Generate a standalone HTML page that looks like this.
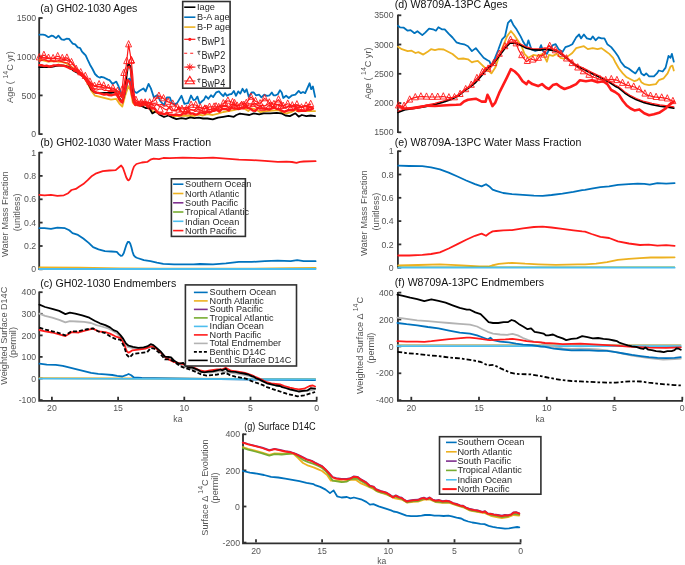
<!DOCTYPE html><html><head><meta charset="utf-8"><style>html,body{margin:0;padding:0;background:#fff;}svg{display:block;will-change:transform;}text{font-family:"Liberation Sans",sans-serif;}</style></head><body>
<svg width="685" height="565" viewBox="0 0 685 565">
<rect width="685" height="565" fill="#fff"/>
<path d="M39.2,17.3V134.8" fill="none" stroke="#303030" stroke-width="1.85"/>
<path d="M39.2,134.1h3.4" stroke="#303030" stroke-width="1.8"/>
<text transform="translate(36.2,137.2) scale(1,1.1)"   font-size="8.75" fill="#555555" text-anchor="end">0</text>
<path d="M39.2,95.4h3.4" stroke="#303030" stroke-width="1.8"/>
<text transform="translate(36.2,98.5) scale(1,1.1)"   font-size="8.75" fill="#555555" text-anchor="end">500</text>
<path d="M39.2,56.7h3.4" stroke="#303030" stroke-width="1.8"/>
<text transform="translate(36.2,59.8) scale(1,1.1)"   font-size="8.75" fill="#555555" text-anchor="end">1000</text>
<path d="M39.2,18h3.4" stroke="#303030" stroke-width="1.8"/>
<text transform="translate(36.2,21.1) scale(1,1.1)"   font-size="8.75" fill="#555555" text-anchor="end">1500</text>
<path d="M39.2,151.9V270" fill="none" stroke="#303030" stroke-width="1.85"/>
<path d="M39.2,269.3h3.4" stroke="#303030" stroke-width="1.8"/>
<text transform="translate(36.2,272.4) scale(1,1.1)"   font-size="8.75" fill="#555555" text-anchor="end">0</text>
<path d="M39.2,246h3.4" stroke="#303030" stroke-width="1.8"/>
<text transform="translate(36.2,249.1) scale(1,1.1)"   font-size="8.75" fill="#555555" text-anchor="end">0.2</text>
<path d="M39.2,222.6h3.4" stroke="#303030" stroke-width="1.8"/>
<text transform="translate(36.2,225.7) scale(1,1.1)"   font-size="8.75" fill="#555555" text-anchor="end">0.4</text>
<path d="M39.2,199.3h3.4" stroke="#303030" stroke-width="1.8"/>
<text transform="translate(36.2,202.4) scale(1,1.1)"   font-size="8.75" fill="#555555" text-anchor="end">0.6</text>
<path d="M39.2,175.9h3.4" stroke="#303030" stroke-width="1.8"/>
<text transform="translate(36.2,179) scale(1,1.1)"   font-size="8.75" fill="#555555" text-anchor="end">0.8</text>
<path d="M39.2,152.6h3.4" stroke="#303030" stroke-width="1.8"/>
<text transform="translate(36.2,155.7) scale(1,1.1)"   font-size="8.75" fill="#555555" text-anchor="end">1</text>
<path d="M39.2,291.5V400.8H317.4" fill="none" stroke="#303030" stroke-width="1.85"/>
<path d="M39.2,400.1h3.4" stroke="#303030" stroke-width="1.8"/>
<text transform="translate(36.2,403.2) scale(1,1.1)"   font-size="8.75" fill="#555555" text-anchor="end">-100</text>
<path d="M39.2,378.5h3.4" stroke="#303030" stroke-width="1.8"/>
<text transform="translate(36.2,381.6) scale(1,1.1)"   font-size="8.75" fill="#555555" text-anchor="end">0</text>
<path d="M39.2,356.9h3.4" stroke="#303030" stroke-width="1.8"/>
<text transform="translate(36.2,360) scale(1,1.1)"   font-size="8.75" fill="#555555" text-anchor="end">100</text>
<path d="M39.2,335.4h3.4" stroke="#303030" stroke-width="1.8"/>
<text transform="translate(36.2,338.5) scale(1,1.1)"   font-size="8.75" fill="#555555" text-anchor="end">200</text>
<path d="M39.2,313.8h3.4" stroke="#303030" stroke-width="1.8"/>
<text transform="translate(36.2,316.9) scale(1,1.1)"   font-size="8.75" fill="#555555" text-anchor="end">300</text>
<path d="M39.2,292.2h3.4" stroke="#303030" stroke-width="1.8"/>
<text transform="translate(36.2,295.3) scale(1,1.1)"   font-size="8.75" fill="#555555" text-anchor="end">400</text>
<path d="M51.9,400.1v-3.4" stroke="#303030" stroke-width="1.8"/>
<text transform="translate(51.9,411.1) scale(1,1.1)"   font-size="8.75" fill="#555555" text-anchor="middle">20</text>
<path d="M118.1,400.1v-3.4" stroke="#303030" stroke-width="1.8"/>
<text transform="translate(118.1,411.1) scale(1,1.1)"   font-size="8.75" fill="#555555" text-anchor="middle">15</text>
<path d="M184.3,400.1v-3.4" stroke="#303030" stroke-width="1.8"/>
<text transform="translate(184.3,411.1) scale(1,1.1)"   font-size="8.75" fill="#555555" text-anchor="middle">10</text>
<path d="M250.5,400.1v-3.4" stroke="#303030" stroke-width="1.8"/>
<text transform="translate(250.5,411.1) scale(1,1.1)"   font-size="8.75" fill="#555555" text-anchor="middle">5</text>
<path d="M316.7,400.1v-3.4" stroke="#303030" stroke-width="1.8"/>
<text transform="translate(316.7,411.1) scale(1,1.1)"   font-size="8.75" fill="#555555" text-anchor="middle">0</text>
<text transform="translate(177.9,421.9) scale(1,1.1)"   font-size="8.6" fill="#555555" text-anchor="middle">ka</text>
<path d="M397.9,14.6V133" fill="none" stroke="#303030" stroke-width="1.85"/>
<path d="M397.9,132.3h3.4" stroke="#303030" stroke-width="1.8"/>
<text transform="translate(393.6,135.4) scale(1,1.1)"   font-size="8.75" fill="#555555" text-anchor="end">1500</text>
<path d="M397.9,103.1h3.4" stroke="#303030" stroke-width="1.8"/>
<text transform="translate(393.6,106.2) scale(1,1.1)"   font-size="8.75" fill="#555555" text-anchor="end">2000</text>
<path d="M397.9,73.8h3.4" stroke="#303030" stroke-width="1.8"/>
<text transform="translate(393.6,76.9) scale(1,1.1)"   font-size="8.75" fill="#555555" text-anchor="end">2500</text>
<path d="M397.9,44.5h3.4" stroke="#303030" stroke-width="1.8"/>
<text transform="translate(393.6,47.6) scale(1,1.1)"   font-size="8.75" fill="#555555" text-anchor="end">3000</text>
<path d="M397.9,15.3h3.4" stroke="#303030" stroke-width="1.8"/>
<text transform="translate(393.6,18.4) scale(1,1.1)"   font-size="8.75" fill="#555555" text-anchor="end">3500</text>
<path d="M397.9,150.5V268.4" fill="none" stroke="#303030" stroke-width="1.85"/>
<path d="M397.9,267.7h3.4" stroke="#303030" stroke-width="1.8"/>
<text transform="translate(393.6,270.8) scale(1,1.1)"   font-size="8.75" fill="#555555" text-anchor="end">0</text>
<path d="M397.9,244.4h3.4" stroke="#303030" stroke-width="1.8"/>
<text transform="translate(393.6,247.5) scale(1,1.1)"   font-size="8.75" fill="#555555" text-anchor="end">0.2</text>
<path d="M397.9,221.1h3.4" stroke="#303030" stroke-width="1.8"/>
<text transform="translate(393.6,224.2) scale(1,1.1)"   font-size="8.75" fill="#555555" text-anchor="end">0.4</text>
<path d="M397.9,197.8h3.4" stroke="#303030" stroke-width="1.8"/>
<text transform="translate(393.6,200.9) scale(1,1.1)"   font-size="8.75" fill="#555555" text-anchor="end">0.6</text>
<path d="M397.9,174.5h3.4" stroke="#303030" stroke-width="1.8"/>
<text transform="translate(393.6,177.6) scale(1,1.1)"   font-size="8.75" fill="#555555" text-anchor="end">0.8</text>
<path d="M397.9,151.2h3.4" stroke="#303030" stroke-width="1.8"/>
<text transform="translate(393.6,154.3) scale(1,1.1)"   font-size="8.75" fill="#555555" text-anchor="end">1</text>
<path d="M397.9,291.9V400.9H683" fill="none" stroke="#303030" stroke-width="1.85"/>
<path d="M397.9,400.2h3.4" stroke="#303030" stroke-width="1.8"/>
<text transform="translate(393.6,403.3) scale(1,1.1)"   font-size="8.75" fill="#555555" text-anchor="end">-400</text>
<path d="M397.9,373.3h3.4" stroke="#303030" stroke-width="1.8"/>
<text transform="translate(393.6,376.4) scale(1,1.1)"   font-size="8.75" fill="#555555" text-anchor="end">-200</text>
<path d="M397.9,346.4h3.4" stroke="#303030" stroke-width="1.8"/>
<text transform="translate(393.6,349.5) scale(1,1.1)"   font-size="8.75" fill="#555555" text-anchor="end">0</text>
<path d="M397.9,319.5h3.4" stroke="#303030" stroke-width="1.8"/>
<text transform="translate(393.6,322.6) scale(1,1.1)"   font-size="8.75" fill="#555555" text-anchor="end">200</text>
<path d="M397.9,292.6h3.4" stroke="#303030" stroke-width="1.8"/>
<text transform="translate(393.6,295.7) scale(1,1.1)"   font-size="8.75" fill="#555555" text-anchor="end">400</text>
<path d="M411.3,400.2v-3.4" stroke="#303030" stroke-width="1.8"/>
<text transform="translate(411.3,411.2) scale(1,1.1)"   font-size="8.75" fill="#555555" text-anchor="middle">20</text>
<path d="M479,400.2v-3.4" stroke="#303030" stroke-width="1.8"/>
<text transform="translate(479,411.2) scale(1,1.1)"   font-size="8.75" fill="#555555" text-anchor="middle">15</text>
<path d="M546.8,400.2v-3.4" stroke="#303030" stroke-width="1.8"/>
<text transform="translate(546.8,411.2) scale(1,1.1)"   font-size="8.75" fill="#555555" text-anchor="middle">10</text>
<path d="M614.5,400.2v-3.4" stroke="#303030" stroke-width="1.8"/>
<text transform="translate(614.5,411.2) scale(1,1.1)"   font-size="8.75" fill="#555555" text-anchor="middle">5</text>
<path d="M682.3,400.2v-3.4" stroke="#303030" stroke-width="1.8"/>
<text transform="translate(682.3,411.2) scale(1,1.1)"   font-size="8.75" fill="#555555" text-anchor="middle">0</text>
<text transform="translate(540.1,422) scale(1,1.1)"   font-size="8.6" fill="#555555" text-anchor="middle">ka</text>
<path d="M243,433.6V543.3H521.3" fill="none" stroke="#303030" stroke-width="1.85"/>
<path d="M243,542.6h3.4" stroke="#303030" stroke-width="1.8"/>
<text transform="translate(240,545.7) scale(1,1.1)"   font-size="8.75" fill="#555555" text-anchor="end">-200</text>
<path d="M243,506.5h3.4" stroke="#303030" stroke-width="1.8"/>
<text transform="translate(240,509.6) scale(1,1.1)"   font-size="8.75" fill="#555555" text-anchor="end">0</text>
<path d="M243,470.4h3.4" stroke="#303030" stroke-width="1.8"/>
<text transform="translate(240,473.5) scale(1,1.1)"   font-size="8.75" fill="#555555" text-anchor="end">200</text>
<path d="M243,434.3h3.4" stroke="#303030" stroke-width="1.8"/>
<text transform="translate(240,437.4) scale(1,1.1)"   font-size="8.75" fill="#555555" text-anchor="end">400</text>
<path d="M256,542.6v-3.4" stroke="#303030" stroke-width="1.8"/>
<text transform="translate(256,553.6) scale(1,1.1)"   font-size="8.75" fill="#555555" text-anchor="middle">20</text>
<path d="M322.1,542.6v-3.4" stroke="#303030" stroke-width="1.8"/>
<text transform="translate(322.1,553.6) scale(1,1.1)"   font-size="8.75" fill="#555555" text-anchor="middle">15</text>
<path d="M388.3,542.6v-3.4" stroke="#303030" stroke-width="1.8"/>
<text transform="translate(388.3,553.6) scale(1,1.1)"   font-size="8.75" fill="#555555" text-anchor="middle">10</text>
<path d="M454.5,542.6v-3.4" stroke="#303030" stroke-width="1.8"/>
<text transform="translate(454.5,553.6) scale(1,1.1)"   font-size="8.75" fill="#555555" text-anchor="middle">5</text>
<path d="M520.6,542.6v-3.4" stroke="#303030" stroke-width="1.8"/>
<text transform="translate(520.6,553.6) scale(1,1.1)"   font-size="8.75" fill="#555555" text-anchor="middle">0</text>
<text transform="translate(381.8,564.4) scale(1,1.1)"   font-size="8.6" fill="#555555" text-anchor="middle">ka</text>
<polyline points="39.3,59.7 43,60.4 47.9,61.6 52.9,61 57.8,61.6 62.8,62.2 66.5,63.5 70.2,65.9 75.2,69.7 80.1,72.7 83.8,77.1 87.6,83.3 91.3,90.7 95,95.7 100,96.9 105,98.2 111,99.7 116.3,98.9 119.3,103.5 122.3,106.5 125.3,95.2 128.3,86.2 130.6,90.7 132.8,102.7 135.1,105 141.1,105.7 145,104.6 148.6,107.2 152.3,111.2 159.6,113.4 166.9,114.1 174.2,116.3 181.5,115.9 188.8,115.5 194.4,115.9 198.8,114.6 203.1,115.5 207.5,114.2 212.8,115 218,113.7 223.3,112 228.5,111.1 233.8,110.2 239,108.9 242.5,107.6 245,108.9 248.3,111.1 251.6,108.4 255.9,109.5 260.3,112.2 266.9,111.1 272.4,110.6 278.9,110 282.2,112.8 286.6,113.3 291,112.2 295.4,110 298.7,111.7 303,110.6 308.5,111.1 315.1,111.1" fill="none" stroke="#EDB120" stroke-width="1.8" stroke-linejoin="round" stroke-linecap="round"/>
<polyline points="39.3,67.2 44.2,67.2 50.4,67.2 56.6,65.9 61.5,65.3 65.3,65.9 69,67.2 73.9,70.9 78.9,73.4 83.8,77.1 87.6,82 91.3,89.5 95,92.6 100,93.2 105,92.9 111,92.9 116.3,92.2 119.3,98.2 122.3,101.9 124.6,93.7 126.8,74.1 128.3,63.6 130.6,66.6 132.1,84.6 133.6,101.2 135.8,104.2 141.1,105.7 145.6,108 149.4,108.2 152.3,113.4 156,111.2 159.6,114.8 164,117 168.4,115.5 172.7,117.7 176.4,119.2 181.5,118.1 185.9,118.8 190.3,117.4 194.4,118.1 198.8,117.7 203.1,118.5 207.5,118.5 212.8,119.4 218,117.7 223.3,116.8 228.5,115.9 233.8,116.8 236.4,115 239.9,113.7 245,114.4 249.4,115 253.8,113.3 259.2,114.4 263.6,113.3 270.2,113.3 276.8,112.8 281.1,113.3 285.5,115.5 289.9,116.1 295.4,113.3 298.7,116.6 301.9,115 306.3,116.1 310.7,115.5 315.1,116.1" fill="none" stroke="#000" stroke-width="1.8" stroke-linejoin="round" stroke-linecap="round"/>
<polyline points="39.3,34.7 43,34.7 45.4,35.2 48.5,37.2 51.6,35.6 53.5,36.2 56,38.1 58.4,35.6 61.5,39.3 64,39.9 66.5,38.7 69,38.9 70.8,41.2 72.7,43.6 75.2,44.3 77.7,47.3 80.1,48 82,51.7 83.8,53.5 85.7,55.4 87.6,59.7 90,64.7 92.5,69 95,74 97.5,76.5 100,77.7 101.2,76.8 104.3,77.7 108,79.6 109.5,80.1 112.5,83.9 116.3,81.6 118.5,86.2 121.5,94.4 123.8,96.7 126.1,87.7 128.3,79.4 129.8,78.6 132.1,84.6 134.3,91.4 136.6,92.9 139.6,90.7 143.4,88.4 145.6,91.4 148.6,83.9 150.9,88.4 153.8,97.3 157.4,95.1 160.3,101 164,105.3 166.9,97.3 169.8,97.3 172,103.1 174.2,104.6 177.1,103.1 181.5,95.8 184.4,103.9 188.1,103.1 191,95.5 193.5,100.1 195.3,99.7 197.4,96.6 199.6,103.6 202.3,101 204,99.7 205.8,96.2 208.4,98.8 211,95.3 213.2,97.1 216.3,92.3 218.9,91.4 221.1,94 223.3,96.2 225,93.1 226.8,95.8 229.4,94.4 231.6,94 233.8,90.9 236,95.8 238.2,91.4 240.3,93.6 242.5,88.8 244.7,92.3 246.6,89.2 248.8,96.9 251.6,92.5 253.8,92.5 255.9,95.3 259.2,94.7 261.4,97.4 264.2,94.7 266.9,95.8 269.6,95.3 271.8,92.5 273.5,95.3 275.7,95.3 277.8,94.2 280,90.3 281.7,92.5 283.3,98 286.1,95.8 288.8,98 292.1,95.3 295.4,94.7 298.7,90.9 300.8,93.1 303,92 305.2,93.1 307.4,88.1 309.6,83.2 311.2,89.2 312.9,86.5 315.1,96.9" fill="none" stroke="#0072BD" stroke-width="1.8" stroke-linejoin="round" stroke-linecap="round"/>
<polyline points="39.3,57.5 43.9,55.1 48.5,57.9 53.1,58.3 57.7,56.3 62.3,58.2 66.9,57.8 71.5,62.3 76.1,69 80.7,72.4 85.3,76.1 89.9,81.8 94.5,86 99.1,84.4 103.7,85.6 108.3,88.1 112.9,88.1 117.5,91.1 118.5,92 121.5,96.8 122.1,89.8 123.8,73.2 126.1,66.7 126.7,61.2 128.6,44.4 131.3,60.6 131.3,60.7 132.8,76.5 134.3,97.8 135.9,100 140.5,103.6 145.1,102.6 149.7,102.6 154.3,100.7 158.9,95.9 163.5,98.4 168.1,101.9 172.7,103.8 177.3,107.4 181.9,109 186.5,109.1 191.1,104.9 195.7,105 200.3,107.6 204.9,108.7 209.5,106.9 214.1,106.8 218.7,107.2 223.3,103.4 227.9,100.8 232.5,102.2 237.1,105.8 241.7,104.9 246.3,103.1 250.9,96.9 255.5,101.2 260.1,103.5 264.7,98.4 269.3,102.6 273.9,104.2 278.5,99.6 283.1,105.9 287.7,103.8 292.3,105.5 296.9,104.5 301.5,107.6 306.1,105.7 310.7,104.1" fill="none" stroke="#FF1A1A" stroke-width="1.2" stroke-linejoin="round" stroke-linecap="round"/>
<polyline points="39.3,58.7 41.7,58 44.1,58.1 46.5,58.4 48.9,58.5 51.3,58.9 53.7,58.6 56.1,58.6 58.5,59 60.9,59 63.3,59.6 65.7,59.5 68.1,61.2 70.5,61.5 72.9,63.8 75.3,66.9 77.7,69.5 80.1,71.9 82.5,73.9 84.9,77.4 87.3,80.1 89.7,82.1 92.1,84.9 94.5,86.4 96.9,86.4 99.3,86.8 101.7,86.9 104.1,88.1 106.5,87.5 108.9,87.6 111.3,89.3 113.7,89 116.1,89.9 118.5,92.1 118.5,91.3 120.9,96 121.5,97.7 123.3,88.9 124,85.3 125.7,75.8 126.5,71.8 128.1,66.9 128.6,66.4 130.5,69.2 131,70.4 132.9,86.8 133,87.6 135,99.5 135.3,103.2 137.7,103.1 140.1,103.4 142.5,103.8 144.9,103.8 147.3,101.9 149.7,104.1 152.1,104.3 154.5,103.7 156.9,104.5 159.3,106.3 161.7,106.9 164.1,108.8 166.5,110 168.9,107.8 171.3,110.1 173.7,110.5 176.1,110.6 178.5,108.3 180.9,107.8 183.3,107.8 185.7,107.7 188.1,107.7 190.5,109.4 192.9,110.2 195.3,109.4 197.7,107.4 200.1,107.7 202.5,108.6 204.9,105.7 207.3,108.4 209.7,109.8 212.1,109 214.5,108.7 216.9,107.2 219.3,105.7 221.7,107.9 224.1,105.4 226.5,107 228.9,107.3 231.3,104.4 233.7,104.2 236.1,106.4 238.5,105.1 240.9,102.8 243.3,103.3 245.7,104 248.1,107.3 250.5,106.8 252.9,103.9 255.3,106.9 257.7,107.7 260.1,106.4 262.5,105.1 264.9,106.1 267.3,104.3 269.7,103.3 272.1,107 274.5,105.1 276.9,104.1 279.3,106.2 281.7,104.7 284.1,107.3 286.5,107.8 288.9,105.8 291.3,106.1 293.7,106.5 296.1,106.4 298.5,108 300.9,106.6 303.3,107.1 305.7,105.7 308.1,109 310.5,106.5 312.9,108" fill="none" stroke="#FF1A1A" stroke-width="1.2" stroke-linejoin="round" stroke-linecap="round"/>
<polyline points="39.3,61.4 41.7,60.5 44.1,59.6 46.5,60.4 48.9,61.7 51.3,60.8 53.7,61.6 56.1,61.3 58.5,60.6 60.9,61.3 63.3,62.1 65.7,62.7 68.1,62.8 70.5,66.1 72.9,68.1 75.3,70.3 77.7,70.5 80.1,72.7 82.5,74.3 84.9,78 87.3,79.8 89.7,82.7 92.1,86.2 94.5,89.6 96.9,90 99.3,89.1 101.7,89 104.1,90.3 106.5,90.3 108.9,91.5 111.3,91.2 113.7,91.3 116.1,92.6 116.3,92.1 118.5,94.5 119.3,97.2 120.9,96.2 122.3,96 123.3,89.3 125.3,79.8 125.7,76.3 127.6,67.3 128.1,66.5 129.8,66.2 130.5,71.3 132.1,82.8 132.9,88.1 134.3,99.3 135.3,102.1 137.7,101.9 140.1,102.2 142.5,102 144.9,101 147.3,103.5 149.7,104.1 152.1,104.1 154.5,106.4 156.9,104 159.3,105 161.7,104.3 164.1,106.2 166.5,105.6 168.9,107.4 171.3,106.7 173.7,110.8 176.1,110.3 178.5,108.9 180.9,110.7 183.3,112.9 185.7,108.5 188.1,111.8 190.5,109.7 192.9,109.9 195.3,111.4 197.7,109.1 200.1,109.8 202.5,111.1 204.9,113 207.3,110.1 209.7,112.4 212.1,111.5 214.5,110.9 216.9,109.4 219.3,108.3 221.7,106.1 224.1,105.6 226.5,105.2 228.9,108.7 231.3,106.4 233.7,106.2 236.1,105.2 238.5,108.4 240.9,107.9 243.3,106.5 245.7,104.3 248.1,103.9 250.5,103.9 252.9,104.8 255.3,103.6 257.7,105.4 260.1,104.8 262.5,108.6 264.9,108.9 267.3,106.9 269.7,105 272.1,108.2 274.5,104.5 276.9,105 279.3,104.1 281.7,106.9 284.1,107.5 286.5,107.6 288.9,106.1 291.3,107.3 293.7,104.5 296.1,105.8 298.5,105.4 300.9,107.5 303.3,105.9 305.7,105.7 308.1,107.1 310.5,107.1 312.9,109.4" fill="none" stroke="#FF1A1A" stroke-width="1.2" stroke-linejoin="round" stroke-linecap="round"/>
<polyline points="39.3,65.1 41.7,65.2 44.1,66.1 46.5,65.7 48.9,66.5 51.3,66.3 53.7,65.4 56.1,65.4 58.5,65 60.9,65.6 63.3,65.6 65.7,66.3 68.1,67.4 70.5,68.7 72.9,68.9 75.3,70.2 77.7,72.1 80.1,74.3 82.5,76 84.9,78.4 87.3,82.1 89.7,85 92.1,89.6 94.5,91.8 96.9,92.7 99.3,93.2 101.7,93.8 104.1,94.6 106.5,94.2 108.9,95 111.3,95.3 113.7,94.6 116.1,94.5 116.3,93.9 118.5,97.8 119.3,99.4 120.9,101.5 122.3,102.6 123.3,98 125.3,89.3 125.7,87.6 127.6,79.9 128.1,80.8 129.8,81.8 130.5,85.5 132.1,95.3 132.9,98 134.3,103.1 135.3,105 137.7,103.6 140.1,105.7 142.5,102.4 144.9,102.9 147.3,106.7 149.7,106 152.1,108.3 154.5,108.2 156.9,111.7 159.3,113.5 161.7,113.2 164.1,114.4 166.5,112.9 168.9,114.5 171.3,114.7 173.7,115.2 176.1,114.5 178.5,115.2 180.9,115 183.3,113.2 185.7,113.6 188.1,111.5 190.5,113.5 192.9,113.4 195.3,114.6 197.7,114.1 200.1,112.4 202.5,112.7 204.9,113.6 207.3,111.6 209.7,112.6 212.1,111.1 214.5,110.5 216.9,109.9 219.3,111.6 221.7,109.1 224.1,109 226.5,109.1 228.9,110.4 231.3,107.6 233.7,108.5 236.1,108.4 238.5,109 240.9,108.3 243.3,108.4 245.7,107.1 248.1,108.2 250.5,108.7 252.9,110.6 255.3,110.9 257.7,108.3 260.1,108.4 262.5,108.5 264.9,108.5 267.3,109.3 269.7,109.5 272.1,108.3 274.5,107.4 276.9,108.9 279.3,109.4 281.7,110.6 284.1,111.8 286.5,110.8 288.9,110 291.3,110.1 293.7,110.1 296.1,108 298.5,110.7 300.9,110.3 303.3,110.7 305.7,110.7 308.1,109.6 310.5,109.5 312.9,108.3" fill="none" stroke="#FF1A1A" stroke-width="2.4" stroke-linejoin="round" stroke-linecap="round"/>
<polyline points="39.3,267.4 80,267.6 120,268.3 160,268.6 200,268.7 250,268.6 290,268.2 315.6,268" fill="none" stroke="#EDB120" stroke-width="1.8" stroke-linejoin="round" stroke-linecap="round"/>
<polyline points="39.3,269 315.6,269" fill="none" stroke="#4DBEEE" stroke-width="1.8" stroke-linejoin="round" stroke-linecap="round"/>
<polyline points="39.3,228.2 44.5,228.2 51,228.8 57.4,227.7 65,228.2 69.3,230.3 72.5,233.1 78,234.9 83.3,238.5 88.7,242.9 93.1,247.2 98.5,249.3 104.9,251.1 111.4,251.5 116.8,251.9 119,254.4 120.8,255.8 122.3,255.6 123.8,253 125.2,248.5 126.6,244.3 127.8,242 129,241.8 130.2,243.5 131.4,247.3 132.6,252 133.8,255.4 135.5,257.2 137.4,258 143.9,260.1 150.4,261.2 156.9,262.7 163.3,263.8 174.1,264.4 182.8,264.4 193.6,264.4 200,264 213,264.4 225.9,263.4 238.9,261.9 251.8,261.9 264.8,261.2 277.7,260.6 290.7,261.2 297.2,260.1 303.6,261.2 315.6,261.2" fill="none" stroke="#0072BD" stroke-width="1.8" stroke-linejoin="round" stroke-linecap="round"/>
<polyline points="39.3,194.9 44.5,195.3 51,194.9 57.4,195.8 63.9,195.3 68.2,193.2 71.5,190 75.8,188.9 79,186.7 83.3,184.1 87.7,180.2 92,175.9 96.3,173.3 102.8,171.2 109.3,170.5 115.7,170.1 119,167.3 121.2,165.5 123,168 124.6,172.5 126.2,177.3 127.6,179.8 128.8,180.3 130,178.8 131.3,175 132.6,170.3 134,166.5 136.4,164 141.8,162.5 147.2,161.9 150.4,159.7 153.6,158.6 159,159.1 163.3,158 169.8,158.2 176.3,157.8 182.8,157.6 193.6,157.8 200,158.2 213,157.6 225.9,158.6 238.9,159.7 251.8,160.1 264.8,160.8 277.7,161.8 286.4,161.6 292,162 296.5,162.8 300,161.8 303.6,161.5 315.6,161.2" fill="none" stroke="#FF1A1A" stroke-width="1.8" stroke-linejoin="round" stroke-linecap="round"/>
<polyline points="398.2,265.4 418,265 439.9,264.3 461.8,265.4 479.4,266.5 488.2,266.5 492,265.5 498.8,263.9 512,262.8 525.1,263.7 538.3,264.3 555.8,264.8 577.8,264.3 585,264.3 596,263.7 607,262.1 617.9,259.9 628.9,258.8 639.9,258.2 650.8,257.5 661.8,257.5 674.6,257.3" fill="none" stroke="#EDB120" stroke-width="1.8" stroke-linejoin="round" stroke-linecap="round"/>
<polyline points="398.2,267.2 674.6,267" fill="none" stroke="#77AC30" stroke-width="1.2" stroke-linejoin="round" stroke-linecap="round"/>
<polyline points="398.2,267.7 674.6,267.7" fill="none" stroke="#4DBEEE" stroke-width="1.8" stroke-linejoin="round" stroke-linecap="round"/>
<polyline points="398.2,165.6 409.2,166 422.3,166.2 431.1,167.3 439.9,169.3 448.7,172.6 457.5,176.5 466.2,180.5 475,184.2 481.6,186.4 486,184.2 489.3,186.4 492.6,189.7 496.1,190.8 503.2,193 512,194.1 522.9,194.8 533.9,195.6 542.7,195.8 551.5,195 562.4,193.7 573.4,191.9 582.2,190.1 585,189.8 591.6,188.6 600.4,187.1 609.1,186.4 617.9,184.9 628.9,184.2 637.7,183.6 644.3,183.8 649.8,184.7 657.4,183.1 666.2,183.6 674.6,183.1" fill="none" stroke="#0072BD" stroke-width="1.8" stroke-linejoin="round" stroke-linecap="round"/>
<polyline points="398.2,255.5 409.2,255.5 422.3,254.9 431.1,254 439.9,252.3 448.7,248.5 457.5,244.1 466.2,239.7 475,235.8 481.6,233.6 486,235.8 489.3,233.2 492.6,231.4 496.1,231 503.2,230.3 512,230.1 522.9,228.3 533.9,227 542.7,226.6 551.5,227.5 562.4,228.8 573.4,230.3 582.2,231.4 585,231.6 591.6,234 600.4,236.9 609.1,238 617.9,241.3 628.9,243.5 639.9,245 648.7,244.6 657.4,245.7 666.2,245.2 674.6,245.9" fill="none" stroke="#FF1A1A" stroke-width="1.8" stroke-linejoin="round" stroke-linecap="round"/>
<polyline points="39.4,378.2 120,378.5 315.1,379" fill="none" stroke="#EDB120" stroke-width="1.8" stroke-linejoin="round" stroke-linecap="round"/>
<polyline points="39.4,363.7 46.8,364.6 55.7,364.9 62.8,365.8 69.9,367.6 76.9,369.3 84,371.1 91.1,372.9 98.2,373.8 105.3,374.3 112.3,375 117.1,375.8 122.4,376.5 125.9,375.2 128.6,374 131.2,375.2 133.9,377.5 141.9,377.9 154.2,378.2 190,378.6 250,379.6 315.1,380" fill="none" stroke="#0072BD" stroke-width="1.8" stroke-linejoin="round" stroke-linecap="round"/>
<polyline points="39.4,378.6 315.1,379.2" fill="none" stroke="#4DBEEE" stroke-width="1.8" stroke-linejoin="round" stroke-linecap="round"/>
<polyline points="39.4,313.6 45.1,315.9 52.2,317.7 59.2,319.8 65.4,322.4 69.9,321.2 76.9,321.5 84,321.9 91.1,323 96.4,325.1 101.7,326.5 108.8,328.6 113,331 117.1,333.6 123.3,340.7 127.7,346.9 133,348.1 141.9,348.7 148.9,347.4 152.5,346.4 157.8,349.6 164.9,357.5 175.5,361.9 184.3,366.9 190,368.7 200,371.5 210,372.5 220,371 230,372.5 240,374 250,376 260,380.5 270,384 280,386 290,389.5 298.7,391.5 307.4,390.8 315.1,389.3" fill="none" stroke="#B3B3B3" stroke-width="1.8" stroke-linejoin="round" stroke-linecap="round"/>
<polyline points="39.4,330 45.1,331.3 52.2,332.5 59.2,334.3 65.4,336.1 71.6,332.2 78.7,332.5 85.8,330.4 92.9,328.6 98.2,331.3 105.3,332.2 110,333.6 115.3,336.3 120.6,338.1 124.2,344.2 126.8,351.3 128.6,352.7 132.1,350.4 138.3,349.6 145.4,348.7 150.7,346.4 154.2,346.9 159.6,351.3 166.6,358.4 173.7,361.9 180.8,363.7 185,364.5 190,366.5 195,368 200,370.5 205,371.3 210,370.5 217.2,369.3 222.5,369.3 225.7,367.7 231,370.7 239.5,371.9 245,372.9 251.6,375 256,377.2 262.5,380 266.9,382.2 271.3,383.3 275.7,383.8 280,384.4 284.4,386 289.9,387.6 294.3,388.7 298.7,389.3 304.1,388.7 309.6,386 312.9,385.5 315.1,386.5" fill="none" stroke="#FF1A1A" stroke-width="1.8" stroke-linejoin="round" stroke-linecap="round"/>
<polyline points="39.4,327.7 45.1,329.5 52.2,331.3 59.2,333.1 65.4,335.4 71.6,331.3 78.7,331.3 85.8,329.5 92.9,328.3 98.2,331.3 105.3,333.1 110,336.3 115.3,338.9 120.6,339.8 124.2,346.9 126.8,354.9 129.5,357.5 133,354 140.1,353.1 147.2,352.2 150.7,348.1 154.2,348.7 159.6,353.1 164.9,359.3 170.2,359.3 175.5,362.8 180,366 185.3,368.2 190.6,369.8 195.9,371.9 201.3,374.5 206.6,375.6 211.9,375.1 217.2,374.5 222.5,373.5 225.7,372.9 230,375.1 235.3,376.7 240.6,377.7 245.9,378.6 251.6,381.1 256,382.7 262.5,384.9 266.9,387.1 273.5,389.3 280,391.5 286.6,393.7 293.2,395.3 297.6,396.4 304.1,395.3 309.6,393.7 315.1,392" fill="none" stroke="#000" stroke-width="1.8" stroke-linejoin="round" stroke-linecap="butt" stroke-dasharray="4,2"/>
<polyline points="39.4,304.7 45.1,307 52.2,308.8 59.2,310.9 65.4,314.1 69.9,312.7 75.2,313.6 82.2,315.4 89.3,317.7 94.6,320.7 99.9,323.3 105.3,325.1 110,327.4 113.5,330.1 117.1,331.5 120.6,335.4 123.3,338.9 125.9,343.4 128.6,345.7 133,346.9 138.3,347.8 143.6,347.4 147.2,346.4 150.7,344.2 153.4,345.1 156.9,348.1 161.3,352.2 164.9,356.6 168.4,357 171.1,357.5 174.6,361.1 179,363.7 183.2,362.8 185.3,365.5 188.5,367.6 191.7,367.4 194.9,368.7 198.1,369.8 201.3,371.9 204.4,372.4 208.7,371.7 212.9,371.3 217.2,370.3 220.4,369.5 222.5,370.3 225.7,368.7 227.8,370.8 231,371.7 235.3,371.9 239.5,372.9 243.8,373.5 248.3,374.5 251.6,376.1 253.8,376.7 256,378.3 259.2,379.4 262.5,381.1 266.9,383.3 271.3,384.4 275.7,385.5 280,386 282.2,387.1 285.5,388 289.9,389.3 294.3,390.4 298.7,391.5 303,390.9 307.4,390.4 310.7,388.2 315.1,388.7" fill="none" stroke="#000" stroke-width="1.8" stroke-linejoin="round" stroke-linecap="round"/>
<polyline points="398,46.8 401.8,49.2 407.7,51.1 411.6,50.7 415.5,53 418.4,52.1 423.3,54.6 427.2,52.1 431,49.2 434.9,50.1 438.8,49.2 443.7,49.5 447.6,51.5 452.5,54 458.3,58.9 463.2,58.5 468,59.3 471.9,62.4 473.9,61.7 477.8,60.8 481.7,64.6 485.6,68.5 489.5,71.5 491.4,73.4 495.3,67.6 499.2,55.9 503.1,46.2 507,36.4 510.9,31 513.8,34.5 517.7,40.3 521.6,46.2 524.5,53.9 528.4,57.8 533.3,54.9 538.1,55.9 543,53.9 546.9,61.7 548.9,54.9 552.8,55.9 556.7,53.9 560.6,57.8 564.5,58.8 568.4,55.9 572.3,53 576.2,48.1 580,47.1 583.9,46.2 587.8,49.1 592.7,48.1 597.6,49.1 601.5,48.1 605.4,51 609.3,53.9 613.1,57.8 615,61.7 618.9,68.5 622.8,73.4 626.7,77.3 630.6,79.3 634.5,81.2 637.4,80.2 639.3,78.3 641.3,82.2 644.2,84.1 649.1,85.1 655.9,84.1 658.8,80.2 663.7,78.3 667.6,73.4 670.5,66.6 672.4,65.6 673.8,70.5" fill="none" stroke="#EDB120" stroke-width="1.8" stroke-linejoin="round" stroke-linecap="round"/>
<polyline points="398,25.8 399.9,27.3 403.8,27.7 407.7,30.7 410.6,30.1 414.5,33.2 417.4,31.2 422.3,35.1 425.2,32.6 429.1,28.7 433,29.3 435.9,30.7 438.4,27.3 441.8,29.3 444.7,29.3 448.6,33.6 452.5,37.5 456.4,42.3 460.3,43.7 464.1,44.3 468,46.2 471.9,51.1 475.8,48.1 479.7,53 483.6,57.8 487.5,60.2 489.5,61.3 491.4,66 494.3,59.8 498.2,50 502.1,39.3 505,36.4 508,22.8 510.9,19.9 513.2,24.7 516.7,29.6 520.6,36.4 523.5,42.3 526.5,47.1 528.4,40.3 531.3,49.1 535.2,51 539.1,50 541.1,45.2 543,51 546.9,53.9 548.9,50 552.8,45.2 555.7,44.2 558.6,49.1 562.5,52 565.4,47.1 568.4,46.2 572.3,44.2 576.2,37.4 579.1,34.5 581,38.4 583.9,34.5 586.9,38.4 590.8,39.3 592.7,36.4 595.6,40.3 598.5,37.4 601.5,38.4 604.4,38.4 607.3,44.2 611.2,47.1 615.1,52 617.9,55.9 620.8,61.7 624.7,66.6 628.6,68.5 632.5,71.5 635.4,73.4 637.4,70.5 639.3,67.6 641.3,73.4 644.2,75.4 646.2,73.4 649.1,76.3 653.9,76.3 656.9,73.4 658.8,70.5 662.7,71.5 665.6,67.6 668.5,55.9 670.5,57.8 671.9,53.9 673.8,61.7" fill="none" stroke="#0072BD" stroke-width="1.8" stroke-linejoin="round" stroke-linecap="round"/>
<polyline points="398,112.4 405.7,109.5 415.5,108 425.2,106.6 434.9,104.6 444.7,101.7 452.5,98.8 458.3,95.9 464.1,91 470,87 475.8,82.2 481.7,75.4 487.5,68.5 493.4,63.7 499.2,55.9 505,48.1 509.9,43.2 514.8,43.2 520.6,45.2 526.5,48.1 532.3,49.7 540.1,50 545,49.1 550.8,50 556.7,51 562.5,54.9 568.4,59.8 574.2,64.6 580,67.6 585.9,70.5 591.7,73.4 597.6,76.3 603.4,79.3 609.3,82.2 615.1,86.1 618.9,88 624.7,92.9 630.6,96.8 636.4,99.7 644.2,102.6 652,104.6 659.8,106.1 667.6,107.1 673.8,108.1" fill="none" stroke="#000" stroke-width="1.8" stroke-linejoin="round" stroke-linecap="round"/>
<polyline points="398,105.5 403.6,106.5 407.5,102 410.5,98.8 417.4,96.8 423.3,96.5 429.1,97 436.9,97 442.7,96.5 448.6,97.5 454.4,97.5 460.3,94 466.1,89 470,86.5 475.8,79.3 481.7,73.4 485.6,67.6 489.5,69.5 493.4,63.7 499.2,54 505,46.2 510.9,39.3 514.8,40.3 518.7,50 522.6,56.9 526.5,61.7 530.4,58.8 536.2,60.8 540.1,55.9 544,54.9 548.9,45.2 552.8,49.1 558.6,52 564.5,56.9 570.3,61.7 576.2,66.6 582,70.5 587.8,74.4 593.7,77.3 599.5,79.3 605.4,80.2 611.2,79.3 617,80.2 620.8,82.2 626.7,85.1 634.5,87 640.3,90 646.2,94.8 653.9,96.8 661.7,97.7 667.6,98.7 673.8,101.6" fill="none" stroke="#FF1A1A" stroke-width="1.2" stroke-linejoin="round" stroke-linecap="round"/>
<polyline points="398,111.2 405.7,108.3 415.5,106.8 425.2,105.4 434.9,103.4 444.7,100.5 452.5,97.6 458.3,94.7 464.1,89.8 470,85.8 475.8,81 481.7,74.2 487.5,67.3 493.4,62.5 499.2,54.7 505,46.9 509.9,42 514.8,42 520.6,44 526.5,46.9 532.3,48.5 540.1,48.8 545,47.9 550.8,48.8 556.7,49.8 562.5,53.7 568.4,58.6 574.2,63.4 580,66.4 585.9,69.3 591.7,72.2 597.6,75.1 603.4,78.1 609.3,81 615.1,84.9 618.9,86.8 624.7,91.7 630.6,95.6 636.4,98.5 644.2,101.4 652,103.4 659.8,104.9 667.6,105.9 673.8,106.9" fill="none" stroke="#FF1A1A" stroke-width="1.1" stroke-linejoin="round" stroke-linecap="round"/>
<polyline points="398,105.6 403.8,108.5 411.6,108.5 419.4,107.2 427.2,105.6 434.9,106 442.7,105.5 450.5,105 456.4,104.8 460.5,104.5 464,101.5 468,99.8 475.8,98.7 481.7,101.6 485.6,101.6 487.5,94.8 489.5,98.7 492.4,106.1 495.3,102.6 499.2,92.9 503.1,85.1 507,77.3 510.9,69.1 514.8,71.5 518.7,75.4 522.6,81.2 526.5,84.1 528.4,81.2 532.3,84.1 538.1,86.1 542,84.1 545.9,87.5 548.9,89 552.8,85.1 556.7,84.1 560.6,87 564.5,89 570.3,87 576.2,84.1 580,80.2 585.9,81.2 591.7,80.2 597.6,82.2 603.4,81.2 607.3,84.1 611.2,90 615.1,92 618.9,94.8 622.8,100.7 626.7,105.5 630.6,108.5 634.5,110.4 639.3,109.4 644.2,113.3 649.1,115.3 653.9,114.3 659.8,112.4 665.6,108.5 669.5,104.6 673.8,101.6" fill="none" stroke="#FF1A1A" stroke-width="2.6" stroke-linejoin="round" stroke-linecap="round"/>
<polyline points="397.4,344.9 680.8,345" fill="none" stroke="#B4B06E" stroke-width="1.3" stroke-linejoin="round" stroke-linecap="round"/>
<polyline points="397.4,346.2 680.8,346.2" fill="none" stroke="#4DBEEE" stroke-width="1.8" stroke-linejoin="round" stroke-linecap="round"/>
<polyline points="397.4,317.7 406.6,318.9 417.2,320.3 427.9,321.2 438.5,322.1 449.1,323 459.7,323.9 470,324.7 477.1,326.5 482.4,329.2 487.7,331.8 493,333.6 500.1,334.5 507.2,334.8 512.5,333.8 517.8,335.4 523.1,338 528.4,340.1 533.7,341.6 540.8,342.4 545,344.2 553.8,346.9 562.7,348.3 571.5,349 580.4,348.6 589.2,349 598.1,349.5 606.9,350.4 615.8,352.1 632,355.5 649,358.2 663.1,359.6 674.5,359.2 680.8,358.6" fill="none" stroke="#B3B3B3" stroke-width="1.8" stroke-linejoin="round" stroke-linecap="round"/>
<polyline points="397.4,323 406.6,324.2 417.2,325.3 427.9,327 438.5,328.3 449.1,330.6 459.7,332.7 470,333.6 477.1,335.4 484.2,338 487.7,339.4 490.4,337.7 493,340.1 500.1,341.6 508.9,342.4 516,343.7 523.1,344.7 531.9,345.1 540.8,346.5 545,346.9 553.8,348.6 562.7,349.5 571.5,350.4 580.4,350.1 589.2,350.4 598.1,350.8 606.9,350.9 615.8,352.1 623.5,353.5 632,354.9 640.5,356.1 649,357.2 657.5,357.9 666,358.2 674.5,357.8 680.8,357.2" fill="none" stroke="#0072BD" stroke-width="1.8" stroke-linejoin="round" stroke-linecap="round"/>
<polyline points="397.4,341.2 406.6,341.6 417.2,341.6 424.3,341.9 431.4,341.2 440.2,340.1 449.1,339.1 458,338.4 466.8,337.7 470,337.7 477.1,338.4 484.2,339.4 489.5,340.1 496.5,339.8 505.4,339.4 512.5,338.9 519.6,339.8 526.6,341.2 533.7,341.9 540.8,342.4 545,343 553.8,343.3 562.7,344.2 571.5,343.9 580.4,343.7 589.2,344.2 598.1,344.7 606.9,345.1 615.8,345.6 632,346.9 649,347.6 666,347.8 680.8,347.3" fill="none" stroke="#FF1A1A" stroke-width="1.8" stroke-linejoin="round" stroke-linecap="round"/>
<polyline points="397.4,294.7 403.1,295.9 410.2,297.7 417.2,299.1 424.3,301.2 431.4,299.4 438.5,300.8 445.6,302.6 452.6,305.3 459.7,307.9 466.8,309.7 470,309.7 475.3,312.4 480.6,314.1 484.2,317.7 488.6,322.1 493,323 498.3,323 503.6,322.1 508.1,322.1 511.6,320 515.1,321.2 518.7,323.9 523.1,326.5 527.5,329.2 531.1,328.3 534.6,331.8 539,332.7 543.5,333.6 546.1,335.4 548.5,335.4 553,334.5 557.4,336.6 562.7,338.4 566.2,340.1 571.5,338.9 576.9,338.4 582.2,336.2 587.5,337.1 592.8,338.4 598.1,338 603.4,338.9 608.7,339.4 614,340.5 617.1,341.2 619.2,342.6 623.5,344 627.7,345.4 632,346.4 636.2,346.9 640.5,348.3 643.3,349 645.4,347.6 648.3,349.7 651.8,350.1 656.1,351.1 660.3,351.5 663.8,352.1 667.4,351.1 671.6,351.1 674.5,350.1 676.6,348.3 678.7,348.7 680.8,349.7" fill="none" stroke="#000" stroke-width="1.8" stroke-linejoin="round" stroke-linecap="round"/>
<polyline points="397.4,351.8 406.6,353.1 417.2,353.9 427.9,355.2 438.5,356.1 449.1,357.5 459.7,358.4 470,359.8 480.9,362 485.5,364.2 487.9,365.5 490.5,365.2 493.7,364.9 500.7,368.4 510,372.5 514.7,373.6 521.3,374.2 530.2,374.3 540.8,376.1 545,377 553.8,378.7 562.7,380.1 571.5,381 580.4,381.4 589.2,381.9 598.1,382.3 606.9,382.6 615.8,382.6 623.5,381.8 632,381.3 640.5,381.5 649,382.7 657.5,383.7 666,384.4 674.5,385.1 680.8,385.4" fill="none" stroke="#000" stroke-width="1.8" stroke-linejoin="round" stroke-linecap="butt" stroke-dasharray="4.8,2.1,2.6,2.1"/>
<polyline points="242.8,471 249.8,472.7 256.9,473.6 264,475 271.1,476.8 278.2,477.5 285.2,478.6 292.3,479.8 299.4,481.1 306.5,482.8 313.6,484.2 315,485.1 320.3,486.9 325.6,489.6 330,493.1 333.6,490.4 337.1,496.3 341.5,497.5 346.9,497 350.4,498.4 353.9,497.5 361,499.3 366.3,501.9 369.9,504.6 373.4,504.1 378.7,506.4 385.8,508.7 391.1,510.4 393.5,511.5 397,512.1 401.7,513.9 406.4,515.6 411,516.2 416.9,516.2 421.5,515.6 425,515 429.7,514.8 434.4,515.6 439.1,515.6 443.7,516 448.4,515.6 451.9,516.4 456.6,517.6 461.2,518.5 464.1,520.1 468.2,521.5 472.3,522.5 476.4,523.2 480.4,523.9 484.5,524.2 488.6,525.8 492.7,526.8 496.8,527.6 500.9,528.1 505,528.6 509,528.3 513.1,527.6 517.2,527 519.3,527.3" fill="none" stroke="#0072BD" stroke-width="1.8" stroke-linejoin="round" stroke-linecap="round"/>
<polyline points="242.8,447.2 248.1,448.9 255.2,450.7 262.2,452.5 269.3,454.8 274.6,453.4 281.7,453.7 288.8,453.4 293.2,453.5 297.6,457.7 303,463 308.3,465.7 313.6,467.4 318.9,469.7 322.1,471 327.4,475.4 330.9,480.7 336.2,480.4 343.3,481.6 350.4,479.8 355.7,479.8 361,483.4 366.3,485.7 371.6,488.1 377,491.3 382.3,493.1 387.6,494.9 395,498.4 401.7,499.5 406.9,502.6 413.4,501.8 418,501.6 423.9,499.6 429.7,499.4 435.5,502 442.6,502.8 449.6,502.8 456.6,505.5 463.1,507.3 470.2,510.6 478.4,512.2 485,513.2 490.7,515.8 497.8,517.4 501.9,518.1 508,517.2 513.6,515 519.3,515.5" fill="none" stroke="#EDB120" stroke-width="1.8" stroke-linejoin="round" stroke-linecap="round"/>
<polyline points="242.8,448 248.1,449.7 255.2,451.5 262.2,453.3 269.3,455.6 274.6,454.2 281.7,454.5 288.8,453.8 293.2,453.3 297.6,455.9 303,459.8 308.3,462.1 313.6,463.9 318.9,466.2 322.1,468 325.6,471 329.2,475.5 332.7,480.7 341.5,482.1 346.9,481.6 350.4,479.3 353.9,478.5 357.5,478.8 361,481 366.3,484 369.9,487 373.4,488 376.1,490.6 380.5,492.3 384,493.2 386.7,494 390,496 395.8,496.8 401.7,499 406.9,502.3 413.4,501.2 418,501 423.9,499 429.7,498.8 435.5,501.6 442.6,502.3 449.6,502.3 456.6,505 463.1,506.8 470.2,510.1 478.4,511.6 485,512.4 490.7,514.8 497.8,516.1 501.9,517 508,516.3 513.6,513.8 519.3,514.5" fill="none" stroke="#77AC30" stroke-width="1.8" stroke-linejoin="round" stroke-linecap="round"/>
<polyline points="242.8,442.3 248.1,444 255.2,445.8 262.2,447.6 269.3,450.2 274.6,448.8 279.9,449.9 285.2,451.1 290.6,452 295.9,453.8 301.2,456.4 306.5,459.1 311.8,460.8 315,462.6 318.5,464.4 322.1,466.1 325.6,469.3 329.2,473.2 332.7,477.1 336.2,478.2 341.5,478.9 346.9,478.9 350.4,478.2 353.9,476.4 357.5,476.8 361,479.4 366.3,482.4 369.9,485.6 373.4,486.5 376.1,489.2 380.5,490.9 384,491.8 386.7,492.7 390,494.8 392.9,497.1 395.8,495.4 399.3,497.1 401.7,497.7 404,499.5 406.9,501.2 409.9,500.4 413.4,500 418,499.7 421,498.3 423.9,497.7 426.8,498.9 429.7,497.4 432.6,499.5 435.5,500.4 439.1,500 442.6,501.2 446.1,500.6 449.6,501.2 453.1,503 456.6,503.9 460.1,505.3 463.1,505.7 466.1,507.5 470.2,509 474.3,509.8 478.4,510.5 482.5,511.9 485,511.1 487.6,513.3 490.7,513.6 493.7,514.3 497.8,514.9 501.9,515.7 505,514.9 508,515.1 511.1,514.3 513.6,512.3 516.2,512.1 519.3,513.3" fill="none" stroke="#7E2F8E" stroke-width="1.8" stroke-linejoin="round" stroke-linecap="round"/>
<polyline points="242.8,442.7 248.1,444.4 255.2,446.2 262.2,448 269.3,450.6 274.6,449.2 279.9,450.3 285.2,451.5 290.6,452.4 295.9,454.2 301.2,456.8 306.5,459.5 311.8,461.2 315,463 318.5,464.8 322.1,466.5 325.6,469.7 329.2,473.6 332.7,477.5 336.2,478.6 341.5,479.3 346.9,479.3 350.4,478.6 353.9,476.8 357.5,477.2 361,479.8 366.3,482.8 369.9,486 373.4,486.9 376.1,489.6 380.5,491.3 384,492.2 386.7,493.1 390,495.2 392.9,497.5 395.8,495.8 399.3,497.5 401.7,498.1 404,499.9 406.9,501.6 409.9,500.8 413.4,500.4 418,500.1 421,498.7 423.9,498.1 426.8,499.3 429.7,497.8 432.6,499.9 435.5,500.8 439.1,500.4 442.6,501.6 446.1,501 449.6,501.6 453.1,503.4 456.6,504.3 460.1,505.7 463.1,506.1 466.1,507.9 470.2,509.4 474.3,510.2 478.4,510.9 482.5,512.3 485,511.5 487.6,513.7 490.7,514 493.7,514.7 497.8,515.3 501.9,516.1 505,515.3 508,515.5 511.1,514.7 513.6,512.7 516.2,512.5 519.3,513.7" fill="none" stroke="#FF1A1A" stroke-width="1.8" stroke-linejoin="round" stroke-linecap="round"/>
<path d="M39.3,53.6l3,6.3h-6zM43.9,51.2l3,6.3h-6zM48.5,54.0l3,6.3h-6zM53.1,54.4l3,6.3h-6zM57.7,52.4l3,6.3h-6zM62.3,54.3l3,6.3h-6zM66.9,53.9l3,6.3h-6zM71.5,58.4l3,6.3h-6zM76.1,65.1l3,6.3h-6zM80.7,68.5l3,6.3h-6zM85.3,72.2l3,6.3h-6zM89.9,77.9l3,6.3h-6zM94.5,82.1l3,6.3h-6zM99.1,80.5l3,6.3h-6zM103.7,81.7l3,6.3h-6zM108.3,84.2l3,6.3h-6zM112.9,84.2l3,6.3h-6zM117.5,87.2l3,6.3h-6zM122.1,85.9l3,6.3h-6zM126.7,57.3l3,6.3h-6zM131.3,56.7l3,6.3h-6zM131.3,56.8l3,6.3h-6zM135.9,96.1l3,6.3h-6zM140.5,99.7l3,6.3h-6zM145.1,98.7l3,6.3h-6zM149.7,98.7l3,6.3h-6zM154.3,96.8l3,6.3h-6zM158.9,92.0l3,6.3h-6zM163.5,94.5l3,6.3h-6zM168.1,98.0l3,6.3h-6zM172.7,99.9l3,6.3h-6zM177.3,103.5l3,6.3h-6zM181.9,105.1l3,6.3h-6zM186.5,105.2l3,6.3h-6zM191.1,101.0l3,6.3h-6zM195.7,101.1l3,6.3h-6zM200.3,103.7l3,6.3h-6zM204.9,104.8l3,6.3h-6zM209.5,103.0l3,6.3h-6zM214.1,102.9l3,6.3h-6zM218.7,103.3l3,6.3h-6zM223.3,99.5l3,6.3h-6zM227.9,96.9l3,6.3h-6zM232.5,98.3l3,6.3h-6zM237.1,101.9l3,6.3h-6zM241.7,101.0l3,6.3h-6zM246.3,99.2l3,6.3h-6zM250.9,93.0l3,6.3h-6zM255.5,97.3l3,6.3h-6zM260.1,99.6l3,6.3h-6zM264.7,94.5l3,6.3h-6zM269.3,98.7l3,6.3h-6zM273.9,100.3l3,6.3h-6zM278.5,95.7l3,6.3h-6zM283.1,102.0l3,6.3h-6zM287.7,99.9l3,6.3h-6zM292.3,101.6l3,6.3h-6zM296.9,100.6l3,6.3h-6zM301.5,103.7l3,6.3h-6zM306.1,101.8l3,6.3h-6zM310.7,100.2l3,6.3h-6zM123.8,69.2l3,6.3h-6zM128.6,40.6l3,6.3h-6zM131.3,56.7l3,6.3h-6z" fill="none" stroke="#FF1A1A" stroke-width="0.9"/>
<path d="M141.6,98.9l3,6.3h-6zM150.9,102.7l3,6.3h-6zM160.2,105.6l3,6.3h-6zM169.5,106.2l3,6.3h-6zM178.8,105.9l3,6.3h-6zM188.1,107.6l3,6.3h-6zM197.4,105.0l3,6.3h-6zM206.7,105.2l3,6.3h-6zM216.0,102.6l3,6.3h-6zM225.3,100.2l3,6.3h-6zM234.6,99.3l3,6.3h-6zM243.9,101.1l3,6.3h-6zM253.2,100.1l3,6.3h-6zM262.5,104.1l3,6.3h-6zM271.8,101.9l3,6.3h-6zM281.1,102.0l3,6.3h-6zM290.4,104.4l3,6.3h-6zM299.7,105.2l3,6.3h-6zM309.0,103.7l3,6.3h-6z" fill="none" stroke="#FF1A1A" stroke-width="0.9"/>
<path d="M398.5,101.7l3,6.3h-6zM404.1,102.0l3,6.3h-6zM409.7,95.8l3,6.3h-6zM415.3,93.5l3,6.3h-6zM420.9,92.7l3,6.3h-6zM426.5,92.9l3,6.3h-6zM432.1,93.1l3,6.3h-6zM437.7,93.0l3,6.3h-6zM443.3,92.7l3,6.3h-6zM448.9,93.6l3,6.3h-6zM454.5,93.5l3,6.3h-6zM460.1,90.2l3,6.3h-6zM465.7,85.4l3,6.3h-6zM471.3,81.0l3,6.3h-6zM476.9,74.3l3,6.3h-6zM482.5,68.3l3,6.3h-6zM488.1,64.9l3,6.3h-6zM493.7,59.3l3,6.3h-6zM499.3,50.0l3,6.3h-6zM504.9,42.4l3,6.3h-6zM510.5,35.9l3,6.3h-6zM516.1,39.6l3,6.3h-6zM521.7,51.4l3,6.3h-6zM527.3,57.2l3,6.3h-6zM532.9,55.8l3,6.3h-6zM538.5,54.0l3,6.3h-6zM544.1,50.8l3,6.3h-6zM549.7,42.1l3,6.3h-6zM555.3,46.5l3,6.3h-6zM560.9,50.0l3,6.3h-6zM566.5,54.7l3,6.3h-6zM572.1,59.3l3,6.3h-6zM577.7,63.7l3,6.3h-6zM583.3,67.5l3,6.3h-6zM588.9,71.0l3,6.3h-6zM594.5,73.7l3,6.3h-6zM600.1,75.5l3,6.3h-6zM605.7,76.3l3,6.3h-6zM611.3,75.4l3,6.3h-6zM616.9,76.3l3,6.3h-6zM622.5,79.1l3,6.3h-6zM628.1,81.5l3,6.3h-6zM633.7,82.9l3,6.3h-6zM639.3,85.6l3,6.3h-6zM644.9,89.8l3,6.3h-6zM650.5,92.0l3,6.3h-6zM656.1,93.2l3,6.3h-6zM661.7,93.8l3,6.3h-6zM667.3,94.7l3,6.3h-6zM672.9,97.3l3,6.3h-6z" fill="none" stroke="#FF1A1A" stroke-width="0.9"/>
<text transform="translate(40.3,11.8) scale(1,1.1)"   font-size="10.6" fill="#111">(a) GH02-1030 Ages</text>
<text transform="translate(40.3,145.7) scale(1,1.1)"   font-size="10.6" fill="#111">(b) GH02-1030 Water Mass Fraction</text>
<text transform="translate(40.3,286.6) scale(1,1.1)"   font-size="10.6" fill="#111">(c) GH02-1030 Endmembers</text>
<text transform="translate(394.7,7.6) scale(1,1.1)"   font-size="10.6" fill="#111">(d) W8709A-13PC Ages</text>
<text transform="translate(394.7,145.7) scale(1,1.1)"   font-size="10.6" fill="#111">(e) W8709A-13PC Water Mass Fraction</text>
<text transform="translate(394.7,285.5) scale(1,1.1)"   font-size="10.6" fill="#111">(f) W8709A-13PC Endmembers</text>
<text transform="translate(244.2,429.9) scale(1,1.1)"   font-size="9.2" fill="#111">(g) Surface D14C</text>
<text transform="translate(12.5,77) rotate(-90)" font-size="9.1" fill="#555555" text-anchor="middle">Age ( <tspan font-size="7" dy="-5">14</tspan><tspan dy="5">C yr)</tspan></text>
<text transform="translate(8.4,214.1) rotate(-90)" font-size="9.35" fill="#555555" text-anchor="middle">Water Mass Fraction</text>
<text transform="translate(20.2,212.4) rotate(-90)" font-size="9.35" fill="#555555" text-anchor="middle">(unitless)</text>
<text transform="translate(7,335.7) rotate(-90)" font-size="9.1" fill="#555555" text-anchor="middle">Weighted Surface D14C</text>
<text transform="translate(15.5,342.5) rotate(-90)" font-size="9.1" fill="#555555" text-anchor="middle">(permil)</text>
<text transform="translate(371.4,73.4) rotate(-90)" font-size="9.1" fill="#555555" text-anchor="middle">Age ( <tspan font-size="7" dy="-5">14</tspan><tspan dy="5">C yr)</tspan></text>
<text transform="translate(367.3,213.1) rotate(-90)" font-size="9.35" fill="#555555" text-anchor="middle">Water Mass Fraction</text>
<text transform="translate(379.2,211.6) rotate(-90)" font-size="9.35" fill="#555555" text-anchor="middle">(unitless)</text>
<text transform="translate(362.9,345.5) rotate(-90)" font-size="9.1" fill="#555555" text-anchor="middle">Weighted Surface Δ <tspan font-size="7" dy="-5">14</tspan><tspan dy="5">C</tspan></text>
<text transform="translate(373.5,348.2) rotate(-90)" font-size="9.1" fill="#555555" text-anchor="middle">(permil)</text>
<text transform="translate(207.9,487.5) rotate(-90)" font-size="9.1" fill="#555555" text-anchor="middle">Surface Δ <tspan font-size="7" dy="-5">14</tspan><tspan dy="5">C Evolution</tspan></text>
<text transform="translate(218.2,488) rotate(-90)" font-size="9.1" fill="#555555" text-anchor="middle">(permil)</text>
<rect x="182.7" y="1.5" width="47.4" height="86.7" fill="#fff" stroke="#303030" stroke-width="1.6"/>
<path d="M184.2,7.2H195.4" stroke="#000" stroke-width="1.6"/>
<text x="197.0" y="10.3" font-size="9.2" fill="#262626">Iage</text>
<path d="M184.2,17.2H195.4" stroke="#0072BD" stroke-width="1.6"/>
<text x="197.0" y="20.3" font-size="9.2" fill="#262626">B-A age</text>
<path d="M184.2,27.1H195.4" stroke="#EDB120" stroke-width="1.6"/>
<text x="197.0" y="30.2" font-size="9.2" fill="#262626">B-P age</text>
<path d="M184.2,39.3H195.4" stroke="#FF1A1A" stroke-width="1.2"/><circle cx="189.8" cy="39.3" r="1.6" fill="#FF1A1A"/>
<text x="197.4" y="44.3" font-size="9.2" fill="#262626"></text>
<text transform="translate(201.5,45.4) scale(1,1.1)"   font-size="9.1" fill="#262627">BwP1</text>
<path d="M197.3,38q1.2,-0.9 3.1,-0.6M199.1,37.4q-0.6,2.2 -0.3,3q0.2,0.4 0.8,0.2" fill="none" stroke="#262626" stroke-width="0.85"/>
<path d="M184.2,53.2H195.4" stroke="#FF1A1A" stroke-width="1.1" stroke-dasharray="3,3"/>
<text x="197.4" y="58.2" font-size="9.2" fill="#262626"></text>
<text transform="translate(201.5,59.3) scale(1,1.1)"   font-size="9.1" fill="#262627">BwP2</text>
<path d="M197.3,51.9q1.2,-0.9 3.1,-0.6M199.1,51.3q-0.6,2.2 -0.3,3q0.2,0.4 0.8,0.2" fill="none" stroke="#262626" stroke-width="0.85"/>
<path d="M184.2,67.1H195.4" stroke="#FF1A1A" stroke-width="1.1"/>
<path d="M186.2,67.1l7.2,0M189.8,63.5v7.2M187.2,64.5l5.2,5.2M192.4,64.5l-5.2,5.2" stroke="#FF1A1A" stroke-width="1"/>
<text x="197.4" y="72.1" font-size="9.2" fill="#262626"></text>
<text transform="translate(201.5,73.2) scale(1,1.1)"   font-size="9.1" fill="#262627">BwP3</text>
<path d="M197.3,65.8q1.2,-0.9 3.1,-0.6M199.1,65.2q-0.6,2.2 -0.3,3q0.2,0.4 0.8,0.2" fill="none" stroke="#262626" stroke-width="0.85"/>
<path d="M184.2,81H195.4" stroke="#FF1A1A" stroke-width="1.1"/>
<path d="M189.8,76.4L194.4,83.8H185.2Z" fill="none" stroke="#FF1A1A" stroke-width="1.1"/>
<text x="197.4" y="86" font-size="9.2" fill="#262626"></text>
<text transform="translate(201.5,87.1) scale(1,1.1)"   font-size="9.1" fill="#262627">BwP4</text>
<path d="M197.3,79.7q1.2,-0.9 3.1,-0.6M199.1,79.1q-0.6,2.2 -0.3,3q0.2,0.4 0.8,0.2" fill="none" stroke="#262626" stroke-width="0.85"/>
<rect x="171.4" y="178.8" width="74" height="57.6" fill="#fff" stroke="#303030" stroke-width="1.6"/>
<path d="M173.1,184.2H183.4" stroke="#0072BD" stroke-width="1.6"/>
<text x="185.1" y="187.4" font-size="9.1" fill="#262626">Southern Ocean</text>
<path d="M173.1,193.5H183.4" stroke="#EDB120" stroke-width="1.6"/>
<text x="185.1" y="196.7" font-size="9.1" fill="#262626">North Atlantic</text>
<path d="M173.1,202.8H183.4" stroke="#7E2F8E" stroke-width="1.6"/>
<text x="185.1" y="206" font-size="9.1" fill="#262626">South Pacific</text>
<path d="M173.1,212H183.4" stroke="#77AC30" stroke-width="1.6"/>
<text x="185.1" y="215.2" font-size="9.1" fill="#262626">Tropical Atlantic</text>
<path d="M173.1,221.3H183.4" stroke="#4DBEEE" stroke-width="1.6"/>
<text x="185.1" y="224.5" font-size="9.1" fill="#262626">Indian Ocean</text>
<path d="M173.1,230.6H183.4" stroke="#FF1A1A" stroke-width="1.6"/>
<text x="185.1" y="233.8" font-size="9.1" fill="#262626">North Pacific</text>
<rect x="185.4" y="284.9" width="111.1" height="81.1" fill="#fff" stroke="#303030" stroke-width="1.6"/>
<path d="M193.9,292.4H207.7" stroke="#0072BD" stroke-width="1.6"/>
<text x="209.6" y="295" font-size="9.15" fill="#262626">Southern Ocean</text>
<path d="M193.9,300.9H207.7" stroke="#EDB120" stroke-width="1.6"/>
<text x="209.6" y="303.5" font-size="9.15" fill="#262626">North Atlantic</text>
<path d="M193.9,309.4H207.7" stroke="#7E2F8E" stroke-width="1.6"/>
<text x="209.6" y="312" font-size="9.15" fill="#262626">South Pacific</text>
<path d="M193.9,317.9H207.7" stroke="#77AC30" stroke-width="1.6"/>
<text x="209.6" y="320.5" font-size="9.15" fill="#262626">Tropical Atlantic</text>
<path d="M193.9,326.4H207.7" stroke="#4DBEEE" stroke-width="1.6"/>
<text x="209.6" y="329" font-size="9.15" fill="#262626">Indian Ocean</text>
<path d="M193.9,334.9H207.7" stroke="#FF1A1A" stroke-width="1.6"/>
<text x="209.6" y="337.5" font-size="9.15" fill="#262626">North Pacific</text>
<path d="M193.9,343.4H207.7" stroke="#B3B3B3" stroke-width="1.6"/>
<text x="209.6" y="346" font-size="9.15" fill="#262626">Total Endmember</text>
<path d="M193.9,351.9H207.7" stroke="#000" stroke-width="1.6" stroke-dasharray="3,2"/>
<text x="209.6" y="354.5" font-size="9.15" fill="#262626">Benthic D14C</text>
<path d="M188.3,360.4H207.7" stroke="#000" stroke-width="1.6"/>
<text x="209.6" y="363" font-size="9.15" fill="#262626">Local Surface D14C</text>
<rect x="439.5" y="436.7" width="101.4" height="57.5" fill="#fff" stroke="#303030" stroke-width="1.6"/>
<path d="M446,442.4H456.7" stroke="#0072BD" stroke-width="1.6"/>
<text x="457.4" y="445.4" font-size="9.2" fill="#262626">Southern Ocean</text>
<path d="M446,451.8H456.7" stroke="#EDB120" stroke-width="1.6"/>
<text x="457.4" y="454.8" font-size="9.2" fill="#262626">North Atlantic</text>
<path d="M446,461.1H456.7" stroke="#7E2F8E" stroke-width="1.6"/>
<text x="457.4" y="464.1" font-size="9.2" fill="#262626">South Pacific</text>
<path d="M446,470.4H456.7" stroke="#77AC30" stroke-width="1.6"/>
<text x="457.4" y="473.4" font-size="9.2" fill="#262626">Tropical Atlantic</text>
<path d="M446,479.8H456.7" stroke="#4DBEEE" stroke-width="1.6"/>
<text x="457.4" y="482.8" font-size="9.2" fill="#262626">Indian Ocean</text>
<path d="M442.4,489.1H456.7" stroke="#FF1A1A" stroke-width="2"/>
<text x="457.4" y="492.1" font-size="9.2" fill="#262626">North Pacific</text>
</svg></body></html>
